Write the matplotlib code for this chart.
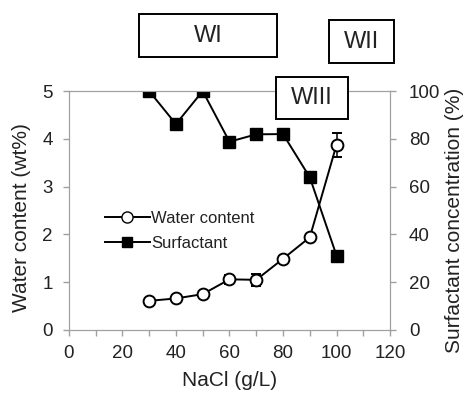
import numpy as np
import matplotlib.pyplot as plt
from matplotlib.patches import Rectangle
from matplotlib.lines import Line2D

plt.rcParams['font.family'] = ['Liberation Sans', 'DejaVu Sans']

nacl = [30, 40, 50, 60, 70, 80, 90, 100]
water = [0.61, 0.66, 0.75, 1.06, 1.05, 1.49, 1.94, 3.88]
water_err = [0.03, 0.03, 0.04, 0.10, 0.12, 0.05, 0.05, 0.25]
surfactant = [100, 86.2, 100, 78.8, 81.9, 82, 63.9, 31.1]

regions = ['WI', 'WII', 'WIII']

gray = '#a0a0a0'

fig = plt.figure(figsize=(4.65, 3.96), dpi=100)
ax = fig.add_axes([0.148, 0.1667, 0.691, 0.6033])
ax2 = ax.twinx()

ax.errorbar(nacl, water, yerr=water_err, color='black', lw=1.4, marker='o',
            ms=8.5, mfc='white', mec='black', mew=1.4, capsize=3.5,
            elinewidth=1.1, zorder=3)
ax2.plot(nacl, surfactant, color='black', lw=1.4, marker='s', ms=8,
         mfc='black', mec='black')

ax.set_xlim(0, 120)
ax.set_ylim(0, 5)
ax2.set_ylim(0, 100)
ax.set_xticks(np.arange(0, 121, 20))
ax.set_xticks(np.arange(0, 121, 10), minor=True)
ax.set_yticks(range(6))
ax2.set_yticks(range(0, 101, 20))

for a in (ax, ax2):
    for s in a.spines.values():
        s.set_color(gray)
    a.tick_params(which='both', direction='out', color=gray, labelsize=13.5,
                  length=4.5, width=1, labelcolor='#222222')
ax.tick_params(axis='x', which='major', pad=6)
ax.tick_params(axis='y', pad=7)
ax2.tick_params(axis='y', pad=9)

ax.set_xlabel('NaCl (g/L)', fontsize=15, labelpad=7, color='#222222')
ax.set_ylabel('Water content (wt%)', fontsize=15, color='#222222')
ax2.set_ylabel('Surfactant concentration (%)', fontsize=15, color='#222222')
ax.yaxis.set_label_coords(-0.118, 0.47)
ax2.yaxis.set_label_coords(1.172, 0.46)

handles = [Line2D([], [], color='black', lw=1.4, marker='o', ms=8,
                  mfc='white', mec='black'),
           Line2D([], [], color='black', lw=1.4, marker='s', ms=7.5,
                  mfc='black')]
ax.legend(handles, ['Water content', 'Surfactant'], loc='upper left',
          bbox_to_anchor=(0.112, 0.5), frameon=False, fontsize=12,
          handlelength=2.7, handletextpad=0.1, labelspacing=0.6,
          borderpad=0, borderaxespad=0, labelcolor='#222222')

# phase region boxes above the plot
boxes = [(139, 14, 138, 43), (329, 20, 65, 43), (276, 77, 72, 42)]
W, H = 465, 396
for label, (x0, y0, w, h) in zip(regions, boxes):
    fig.add_artist(Rectangle((x0 / W, 1 - (y0 + h) / H), w / W, h / H,
                             transform=fig.transFigure, fill=True,
                             facecolor='white', edgecolor='black', lw=1.4,
                             zorder=10))
    fig.text((x0 + w / 2) / W, 1 - (y0 + h / 2) / H, label, ha='center',
             va='center', fontsize=17, zorder=11, color='#222222')

fig.savefig('out.png', dpi=100)
